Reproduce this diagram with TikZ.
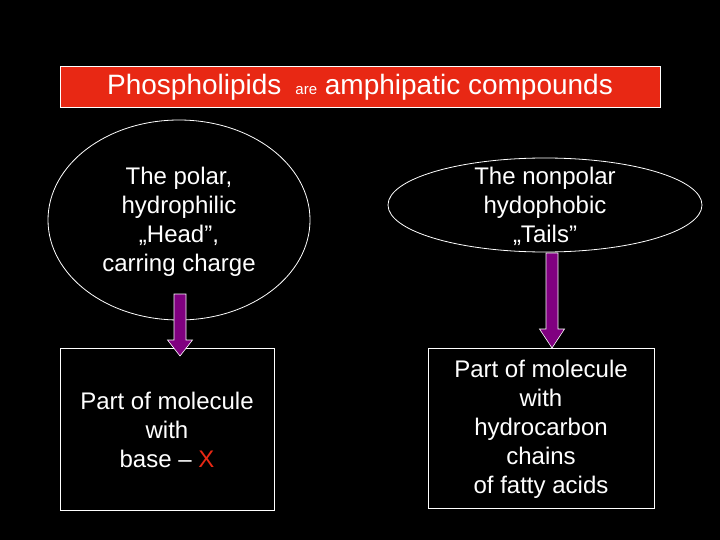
\documentclass[tikz,border=0pt]{standalone}
\usepackage{fontspec}
\setmainfont{Liberation Sans}
\usetikzlibrary{shapes.geometric}
\definecolor{titlered}{RGB}{232,40,20}
\definecolor{arrpurple}{RGB}{128,0,128}
\begin{document}
\begin{tikzpicture}[x=1pt,y=-1pt,
  txt/.style={text=white,font=\fontsize{24}{29}\selectfont,align=center},
  outl/.style={draw=white,line width=0.8pt},
  arr/.style={draw=white,fill=arrpurple,line width=0.6pt}]
\fill[black] (0,0) rectangle (720,540);
\useasboundingbox (0,0) rectangle (720,540);
\node[outl,fill=titlered,minimum width=600,minimum height=41,inner sep=0,font=\fontsize{28}{30}\selectfont,text=white] (title) at (360,87)
  {Phospholipids\hspace{0.5em}{\fontsize{15}{16}\selectfont are} amphipatic compounds};
\node[outl,ellipse,minimum width=262,minimum height=200,inner sep=0] (e1) at (179,220) {};
\node[txt] (t1) at (179,222) {The polar,\\ hydrophilic\\ „Head”,\\ carring charge};
\node[outl,ellipse,minimum width=314,minimum height=94,inner sep=0] (e2) at (545,205) {};
\node[txt] (t2) at (545,206) {The nonpolar\\ hydophobic\\ „Tails”};
\node[outl,minimum width=214,minimum height=162,inner sep=0] (b1) at (167,429) {};
\node[txt] (bt1) at (167,430) {Part of molecule\\ with\\ base -- {\color{titlered}X}};
\node[outl,minimum width=226,minimum height=160,inner sep=0] (b2) at (541,428) {};
\node[txt] (bt2) at (541,429) {Part of molecule\\ with\\ hydrocarbon\\ chains\\ of fatty acids};
\coordinate (a1) at (180,294);
\draw[arr] (a1) ++(-6,0) -- ++(12,0) -- ++(0,46) -- ++(6.5,0) -- (180,356) -- (167.5,340) -- ++(6.5,0) -- cycle;
\coordinate (a2) at (552,253);
\draw[arr] (a2) ++(-6,0) -- ++(12,0) -- ++(0,76) -- ++(6.5,0) -- (552,348) -- (539.5,329) -- ++(6.5,0) -- cycle;
\end{tikzpicture}
\end{document}
